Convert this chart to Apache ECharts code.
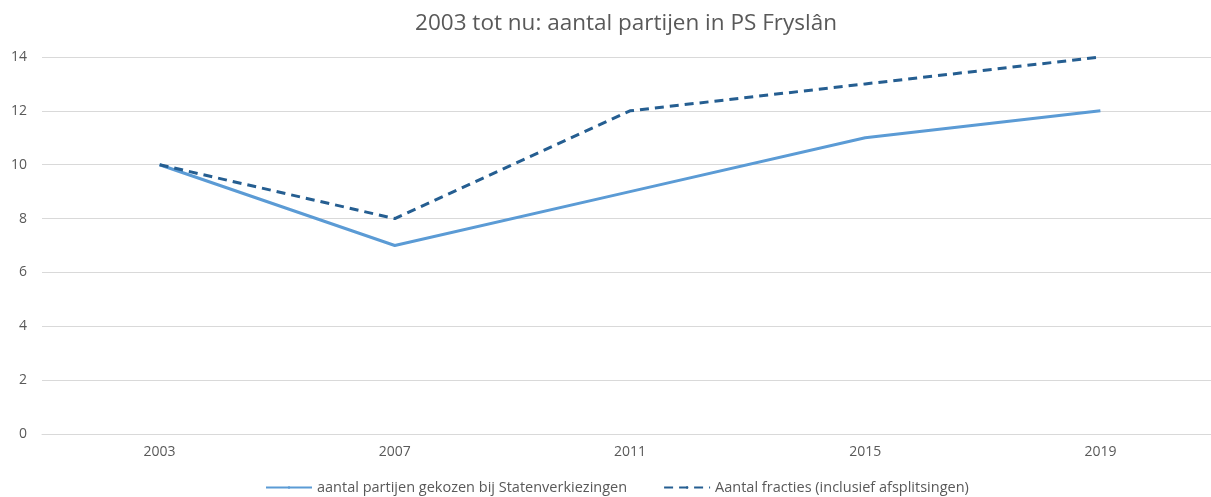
<!DOCTYPE html>
<html>
<head>
<meta charset="utf-8">
<script src="https://cdn.jsdelivr.net/npm/echarts@6/dist/echarts.min.js"></script>
<style>
  html, body { margin: 0; padding: 0; background: #fff; overflow: hidden; }
  #myChart { width: 1218px; height: 497px; }
</style>
</head>
<body>
<div id="myChart"></div>
<script>
const years = ['2003', '2007', '2011', '2015', '2019']
const gekozen = [10, 7, 9, 11, 12]
const fracties = [10, 8, 12, 13, 14]
const yTicks = [0, 2, 4, 6, 8, 10, 12, 14]

const font = '"Open Sans", "Noto Sans", sans-serif'

const myChart = echarts.init(document.getElementById('myChart'))
myChart.setOption({
  animation: false,
  title: {
    text: '2003 tot nu: aantal partijen in PS Fryslân',
    left: 621,
    textAlign: 'center',
    top: 7,
    textStyle: { color: '#595959', fontSize: 22.5, fontWeight: 'normal', fontFamily: font }
  },
  legend: {
    bottom: -3,
    left: 260,
    itemWidth: 46,
    itemHeight: 3,
    itemGap: 36,
    textStyle: { color: '#595959', fontSize: 14.5, fontFamily: font },
    data: ['aantal partijen gekozen bij Statenverkiezingen', 'Aantal fracties (inclusief afsplitsingen)']
  },
  grid: { left: 42, top: 57, right: 0, bottom: 63 },
  xAxis: {
    type: 'category',
    data: years,
    boundaryGap: true,
    axisLine: { lineStyle: { color: '#d9d9d9' } },
    axisTick: { show: false },
    axisLabel: { color: '#595959', fontSize: 14, fontFamily: font, margin: 11 }
  },
  yAxis: {
    type: 'value',
    min: yTicks[0],
    max: yTicks[yTicks.length - 1],
    interval: 2,
    axisLine: { show: false },
    axisTick: { show: false },
    axisLabel: { color: '#595959', fontSize: 14, fontFamily: font, margin: 15 },
    splitLine: { lineStyle: { color: '#d9d9d9' } }
  },
  series: [
    {
      name: 'aantal partijen gekozen bij Statenverkiezingen',
      type: 'line',
      data: gekozen,
      symbol: 'none',
      itemStyle: { color: '#5b9bd5' },
      lineStyle: { color: '#5b9bd5', width: 3 }
    },
    {
      name: 'Aantal fracties (inclusief afsplitsingen)',
      type: 'line',
      data: fracties,
      symbol: 'none',
      itemStyle: { color: '#255e91' },
      lineStyle: { color: '#255e91', width: 3, type: [9, 6] }
    }
  ]
})
</script>
</body>
</html>
